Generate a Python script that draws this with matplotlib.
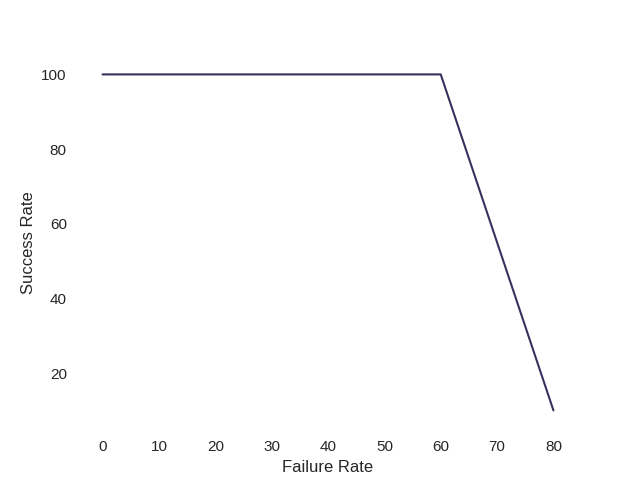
import matplotlib
matplotlib.use("Agg")
import matplotlib.pyplot as plt
import seaborn as sns

# values
failure_rate = [0, 10, 20, 30, 40, 50, 60, 70, 80]
success_rate = [100, 100, 100, 100, 100, 100, 100, 55, 10]
x_ticks = [0, 10, 20, 30, 40, 50, 60, 70, 80]
y_ticks = [20, 40, 60, 80, 100]

sns.set_theme(style="white")
plt.rcParams["font.family"] = ["Liberation Sans", "DejaVu Sans"]

fig, ax = plt.subplots(figsize=(6.4, 4.8), dpi=100)
ax.plot(failure_rate, success_rate, color="#3b2f5e", lw=1.5)
ax.set_xticks(x_ticks)
ax.set_yticks(y_ticks)
ax.set_xlabel("Failure Rate")
ax.set_ylabel("Success Rate")
for s in ax.spines.values():
    s.set_visible(False)

fig.savefig("out.png", dpi=100)
